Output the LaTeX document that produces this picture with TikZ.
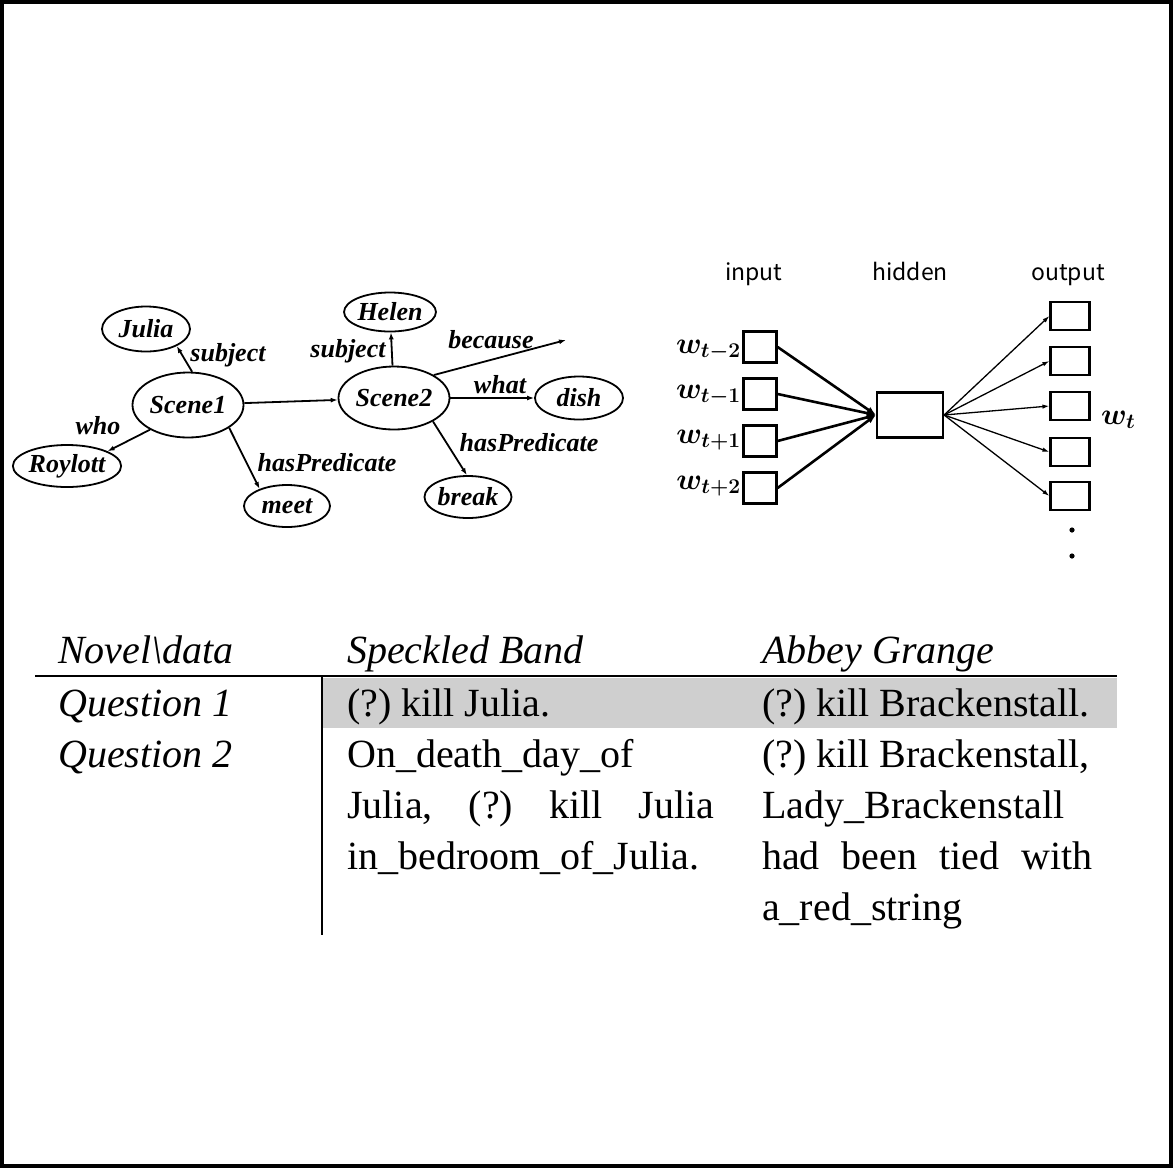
\documentclass[tikz,border=0pt]{standalone}
\usepackage{fix-cm}
\usepackage{bm}
\usepackage{fontspec}
\setmainfont{Liberation Serif}
\newfontfamily\nnsans{Noto Sans CJK JP}
\usetikzlibrary{arrows.meta,shapes.geometric}
\newcommand\wlab[1]{{\fontsize{30}{30}\selectfont\boldmath$\bm{w_{#1}}$}}
\frenchspacing
\begin{document}
\begin{tikzpicture}[x=1pt,y=-1pt,
  gnode/.style={draw,ellipse,line width=1.8pt,inner sep=0pt,font=\fontsize{26}{26}\selectfont\bfseries\itshape},
  glab/.style={font=\fontsize{26}{26}\selectfont\bfseries\itshape,inner sep=0pt},
  garrow/.style={line width=1.8pt,-{Latex[length=7pt,width=5pt]}},
  inbox/.style={draw,rectangle,line width=2.2pt,minimum width=33pt,minimum height=31pt,inner sep=0pt},
  outbox/.style={draw,rectangle,line width=2.2pt,minimum width=39pt,minimum height=28pt,inner sep=0pt},
  hidbox/.style={draw,rectangle,line width=2.2pt,minimum width=66pt,minimum height=45pt,inner sep=0pt},
  nntitle/.style={font=\nnsans\fontsize{23}{23}\selectfont,inner sep=0pt,anchor=base},
  inarrow/.style={line width=2.6pt,-{Latex[length=9pt,width=7pt]}},
  outarrow/.style={line width=1.3pt,-{Latex[length=7pt,width=4.5pt]}},
  tabtxt/.style={font=\fontsize{40}{40}\selectfont,inner sep=0pt,anchor=base west},
  tabit/.style={font=\fontsize{40}{40}\selectfont\itshape,inner sep=0pt,anchor=base west}
]
\useasboundingbox (0,0) rectangle (1173,1168);
\draw[line width=4pt] (2,2) rectangle (1171,1166);

% ---------- scene graph ----------
\node[gnode,minimum width=88pt,minimum height=45pt] (Julia) at (146,329) {Julia};
\node[gnode,minimum width=111pt,minimum height=65pt] (Scene1) at (188,405) {Scene1};
\node[gnode,minimum width=100pt,minimum height=42pt] (Roylott) at (67,466) {Roylott};
\node[gnode,minimum width=86pt,minimum height=42pt] (meet) at (287,506) {meet};
\node[gnode,minimum width=89pt,minimum height=39pt] (Helen) at (390,312) {Helen};
\node[gnode,minimum width=111pt,minimum height=63pt] (Scene2) at (394,398) {Scene2};
\node[gnode,minimum width=88pt,minimum height=43pt] (dish) at (579,398) {dish};
\node[gnode,minimum width=87pt,minimum height=42pt] (break) at (468,497) {break};
\coordinate (becauseEnd) at (566,340);

\draw[garrow] (Scene1.83) -- (Julia.331);
\draw[garrow] (Scene1.213) -- (Roylott.20);
\draw[garrow] (Scene1.331) -- (meet.148);
\draw[garrow] (Scene1) -- (Scene2);
\draw[garrow] (Scene2) -- (Helen);
\draw[garrow] (Scene2.30) -- (becauseEnd);
\draw[garrow] (Scene2) -- (dish);
\draw[garrow] (Scene2.329) -- (break.93);

\node[glab] (l1) at (228,355) {subject};
\node[glab] (l2) at (98,426) {who};
\node[glab] (l3) at (327,463) {hasPredicate};
\node[glab] (l4) at (348,351) {subject};
\node[glab] (l5) at (491,340) {because};
\node[glab] (l6) at (500,385) {what};
\node[glab] (l7) at (529,443) {hasPredicate};

% ---------- neural net ----------
\node[nntitle] (tin) at (754,280) {input};
\node[nntitle] (thid) at (910,280) {hidden};
\node[nntitle] (tout) at (1068,280) {output};

\node[inbox] (in1) at (760,347) {};
\node[inbox] (in2) at (760,394) {};
\node[inbox] (in3) at (760,441) {};
\node[inbox] (in4) at (760,488) {};
\node[hidbox] (hid) at (910,415) {};
\node[outbox] (o1) at (1070,316) {};
\node[outbox] (o2) at (1070,361) {};
\node[outbox] (o3) at (1070,406) {};
\node[outbox] (o4) at (1070,452) {};
\node[outbox] (o5) at (1070,496) {};

\node[inner sep=0pt,anchor=east] (w1) at (741,350) {\wlab{t-2}};
\node[inner sep=0pt,anchor=east] (w2) at (741,395) {\wlab{t-1}};
\node[inner sep=0pt,anchor=east] (w3) at (741,440) {\wlab{t+1}};
\node[inner sep=0pt,anchor=east] (w4) at (741,486) {\wlab{t+2}};
\node[inner sep=0pt,anchor=west] (wt) at (1101,420) {\wlab{t}};

\foreach \i in {1,...,4} \draw[inarrow] (in\i.east) -- (hid.west);
\foreach \i in {1,...,5} \draw[outarrow] (hid.east) -- (o\i.west);

\fill (1072,530) circle (2.6);
\fill (1072,556) circle (2.6);

% ---------- table ----------
\fill[black!19] (323,678) rectangle (1117,728);
\draw[line width=2.5pt] (35,676) -- (1117,676);
\draw[line width=2pt] (322,676) -- (322,935);

\node[tabit] (h1) at (58,663) {Novel\textbackslash data};
\node[tabit] (h2) at (347,663) {Speckled Band};
\node[tabit] (h3) at (762,663) {Abbey Grange};

\node[tabit] (q1) at (58,716) {Question 1};
\node[tabtxt] (a11) at (347,716) {(?) kill Julia.};
\node[tabtxt] (a12) at (762,716) {(?) kill Brackenstall.};

\node[tabit] (q2) at (58,767) {Question 2};
\node[tabtxt] (a21) at (347,767) {On\_death\_day\_of};
\node[tabtxt] (a22) at (347,818) {\makebox[367pt][s]{Julia, (?) kill Julia}};
\node[tabtxt] (a23) at (347,869) {in\_bedroom\_of\_Julia.};
\node[tabtxt] (b21) at (762,767) {(?) kill Brackenstall,};
\node[tabtxt] (b22) at (762,818) {Lady\_Brackenstall};
\node[tabtxt] (b23) at (762,869) {\makebox[330pt][s]{had been tied with}};
\node[tabtxt] (b24) at (762,920) {a\_red\_string};
\end{tikzpicture}
\end{document}
